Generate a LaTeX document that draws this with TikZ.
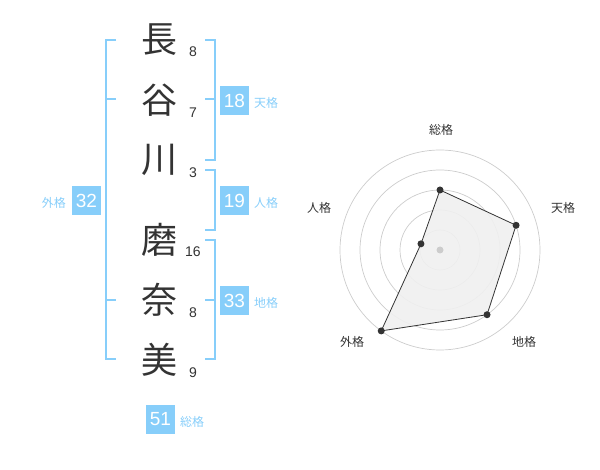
\documentclass[tikz,border=0pt]{standalone}
\usepackage{fontspec}
\usetikzlibrary{calc}
\setmainfont{Liberation Sans}
\newfontfamily\jp{Noto Sans CJK JP}
\definecolor{sky}{HTML}{87CEFA}
\definecolor{ink}{HTML}{333333}
\definecolor{ring}{HTML}{CCCCCC}
\definecolor{area}{HTML}{F0F0F0}
\begin{document}
\begin{tikzpicture}[x=1pt,y=-1pt,
  kanji/.style={font=\jp\fontsize{36}{36}\selectfont, text=ink, inner sep=0pt},
  strokes/.style={font=\fontsize{14}{14}\selectfont, text=ink, inner sep=0pt},
  brk/.style={draw=sky, line width=2pt},
  valbox/.style={fill=sky, text=white, minimum size=29pt, inner sep=0pt, font=\fontsize{19}{19}\selectfont},
  lbl/.style={text=sky, font=\jp\fontsize{12}{12}\selectfont, inner sep=0pt},
  ringline/.style={draw=ring, line width=0.7pt},
  radlbl/.style={text=ink, font=\jp\fontsize{12}{12}\selectfont, inner sep=0pt},
  dot/.style={circle, fill=ink, inner sep=0pt, minimum size=7pt}
]
\useasboundingbox (0,0) rectangle (600,470);

% name characters
\node[kanji] (c1) at (159,40) {長};
\node[kanji] (c2) at (159,100) {谷};
\node[kanji] (c3) at (159,160) {川};
\node[kanji] (c4) at (159,240) {磨};
\node[kanji] (c5) at (159,300) {奈};
\node[kanji] (c6) at (159,360) {美};

% stroke counts
\node[strokes] (n1) at (193,52) {8};
\node[strokes] (n2) at (193,113) {7};
\node[strokes] (n3) at (193,173) {3};
\node[strokes] (n4) at (193,252) {16};
\node[strokes] (n5) at (193,313) {8};
\node[strokes] (n6) at (193,373) {9};

% left bracket (外格)
\draw[brk] (116,40) -- (106,40) -- (106,359) -- (116,359);
\draw[brk] (106,99.5) -- (116,99.5);
\draw[brk] (106,300) -- (116,300);

% right brackets
\draw[brk] (205,40) -- (214.5,40) -- (214.5,160) -- (205,160);
\draw[brk] (205,99.5) -- (214.5,99.5);
\draw[brk] (205,170) -- (214.5,170) -- (214.5,230) -- (205,230);
\draw[brk] (205,240) -- (214.5,240) -- (214.5,359) -- (205,359);
\draw[brk] (205,300) -- (214.5,300);

% value boxes
\node[valbox] (b1) at (234.5,100.5) {18};
\node[lbl, anchor=west] (l1) at (254,103) {天格};
\node[valbox] (b2) at (234.5,200.5) {19};
\node[lbl, anchor=west] (l2) at (254,203) {人格};
\node[valbox] (b3) at (234.5,300.5) {33};
\node[lbl, anchor=west] (l3) at (254,303) {地格};
\node[valbox] (b4) at (86.5,200.5) {32};
\node[lbl, anchor=east] (l4) at (66,203) {外格};
\node[valbox] (b5) at (160.5,419) {51};
\node[lbl, anchor=west] (l5) at (180,422) {総格};

% radar chart
\coordinate (o) at (440,250);
\foreach \r in {20,40,60,80,100} \draw[ringline] (o) circle (\r);
\coordinate (p1) at ($(o)+(-90:60)$);
\coordinate (p2) at ($(o)+(-18:80)$);
\coordinate (p3) at ($(o)+(54:80)$);
\coordinate (p4) at ($(o)+(126:100)$);
\coordinate (p5) at ($(o)+(198:20)$);
\draw[fill=area, fill opacity=0.9, draw=ink, line width=0.8pt] (p1) -- (p2) -- (p3) -- (p4) -- (p5) -- cycle;
\node[circle, fill=ring, inner sep=0pt, minimum size=7pt] (oc) at (o) {};
\foreach \p in {p1,p2,p3,p4,p5} \node[dot] at (\p) {};
\node[radlbl] (r1) at (441,130) {総格};
\node[radlbl] (r2) at (563,208) {天格};
\node[radlbl] (r3) at (524,342) {地格};
\node[radlbl] (r4) at (352,342) {外格};
\node[radlbl] (r5) at (319,208) {人格};
\end{tikzpicture}
\end{document}
